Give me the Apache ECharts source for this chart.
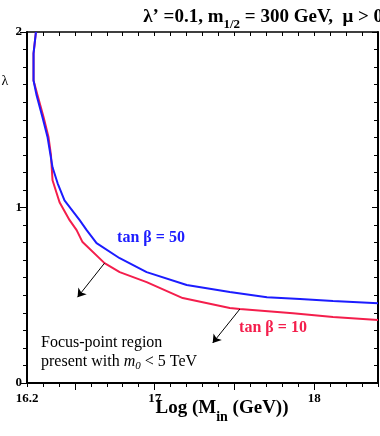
<!DOCTYPE html>
<html>
<head>
<meta charset="utf-8">
<script src="https://cdn.jsdelivr.net/npm/echarts@6/dist/echarts.min.js"></script>
<style>
  html, body { margin: 0; padding: 0; background: #fff; }
  #chart { width: 380px; height: 436px; }
</style>
</head>
<body>
<div id="chart"></div>
<script>
// data
var tan50X = [16.256, 16.241, 16.241, 16.260, 16.297, 16.329, 16.360, 16.392, 16.435, 16.530, 16.574, 16.636, 16.781, 16.950, 17.201, 17.471, 17.704, 17.911, 18.118, 18.400];
var tan50Lambda = [2.0, 1.878, 1.724, 1.639, 1.514, 1.400, 1.229, 1.138, 1.041, 0.928, 0.871, 0.797, 0.711, 0.632, 0.558, 0.518, 0.489, 0.478, 0.467, 0.455];
var tan10X = [16.256, 16.241, 16.241, 16.266, 16.304, 16.335, 16.350, 16.360, 16.404, 16.467, 16.511, 16.548, 16.686, 16.781, 16.950, 17.176, 17.471, 17.534, 17.867, 18.118, 18.400];
var tan10Lambda = [2.0, 1.878, 1.724, 1.639, 1.514, 1.400, 1.300, 1.155, 1.030, 0.928, 0.871, 0.803, 0.683, 0.632, 0.575, 0.484, 0.427, 0.421, 0.398, 0.376, 0.359];
var xLabels = [16.2, 17, 18];
var yLabels = [0, 1, 2];
// arrows (start -> end, in data coordinates)
var arrow1 = [[16.686, 0.683], [16.517, 0.489]];
var arrow2 = [[17.534, 0.421], [17.364, 0.228]];

var serif = 'Liberation Serif';
var red = '#f41e4c';
var blue = '#1c1cff';

function pairs(xs, ys) {
    return xs.map(function (x, i) { return [x, ys[i]]; });
}

var myChart = echarts.init(document.getElementById('chart'));
var option = {
    animation: false,
    title: {
        text: '{a|\u03bb\u2019 =0.1, m}{s|1/2}{a| = 300 GeV,  \u03bc > 0}',
        right: -3,
        top: 8,
        padding: 0,
        textStyle: {
            rich: {
                a: { fontFamily: serif, fontWeight: 'bold', fontSize: 19, lineHeight: 19, verticalAlign: 'top', color: '#000' },
                s: { fontFamily: serif, fontWeight: 'bold', fontSize: 13, lineHeight: 23, verticalAlign: 'bottom', color: '#000' }
            }
        }
    },
    grid: { left: 27, right: 2, top: 32, bottom: 53, containLabel: false },
    xAxis: [{
        type: 'value', position: 'bottom',
        min: 16.2, max: 18.4, interval: 0.1,
        axisLine: { lineStyle: { color: '#000', width: 2 } },
        axisTick: { length: 4, lineStyle: { color: '#000', width: 1 } },
        axisLabel: {
            customValues: xLabels, margin: 9, color: '#000',
            fontFamily: serif, fontWeight: 'bold', fontSize: 13
        },
        splitLine: { show: false }
    }, {
        type: 'value', position: 'bottom',
        min: 16.2, max: 18.4,
        axisLine: { show: false },
        axisTick: { customValues: [16.5, 17, 17.5, 18], length: 7, lineStyle: { color: '#000', width: 1 } },
        axisLabel: { show: false },
        splitLine: { show: false }
    }, {
        type: 'value', position: 'top',
        min: 16.2, max: 18.4, interval: 0.1,
        axisLine: { lineStyle: { color: '#000', width: 1.5 } },
        axisTick: { inside: true, length: 4, lineStyle: { color: '#000', width: 1 } },
        axisLabel: { show: false },
        splitLine: { show: false }
    }],
    yAxis: [{
        type: 'value', position: 'left',
        min: 0, max: 2, interval: 1,
        axisLine: { show: true, lineStyle: { color: '#000', width: 2 } },
        axisTick: { show: true, length: 7, lineStyle: { color: '#000', width: 1 } },
        minorTick: { show: true, splitNumber: 10, length: 4, lineStyle: { color: '#000', width: 1 } },
        axisLabel: {
            customValues: yLabels, margin: 5, color: '#000',
            fontFamily: serif, fontWeight: 'bold', fontSize: 13
        },
        splitLine: { show: false },
        minorSplitLine: { show: false }
    }, {
        type: 'value', position: 'right',
        min: 0, max: 2, interval: 1,
        axisLine: { show: true, lineStyle: { color: '#000', width: 2 } },
        axisTick: { show: true, inside: true, length: 6, lineStyle: { color: '#000', width: 1 } },
        minorTick: { show: true, splitNumber: 10, length: 4, lineStyle: { color: '#000', width: 1 } },
        axisLabel: { show: false },
        splitLine: { show: false },
        minorSplitLine: { show: false }
    }],
    series: [{
        name: 'tan \u03b2 = 10',
        type: 'line',
        data: pairs(tan10X, tan10Lambda),
        showSymbol: false,
        lineStyle: { color: red, width: 2 },
        markLine: {
            silent: true,
            symbol: ['none', 'arrow'],
            symbolSize: 8,
            label: { show: false },
            emphasis: { disabled: true },
            lineStyle: { color: '#000', width: 1, type: 'solid' },
            data: [
                [{ coord: arrow1[0] }, { coord: arrow1[1] }],
                [{ coord: arrow2[0] }, { coord: arrow2[1] }]
            ]
        }
    }, {
        name: 'tan \u03b2 = 50',
        type: 'line',
        data: pairs(tan50X, tan50Lambda),
        showSymbol: false,
        lineStyle: { color: blue, width: 2 }
    }],
    graphic: [{
        type: 'text', x: 5, y: 81,
        style: { text: '\u03bb', font: '14px ' + serif, fill: '#000', align: 'center', verticalAlign: 'middle' }
    }, {
        type: 'text', x: 222, y: 399,
        style: {
            text: '{a|Log (M}{s|in}{a| (GeV))}',
            align: 'center', verticalAlign: 'top',
            rich: {
                a: { fontFamily: serif, fontWeight: 'bold', fontSize: 19, lineHeight: 19, verticalAlign: 'top', fill: '#000' },
                s: { fontFamily: serif, fontWeight: 'bold', fontSize: 14, lineHeight: 25, verticalAlign: 'bottom', fill: '#000' }
            }
        }
    }, {
        type: 'text', x: 151, y: 238,
        style: { text: 'tan \u03b2 = 50', font: 'bold 16px ' + serif, fill: blue, align: 'center', verticalAlign: 'middle' }
    }, {
        type: 'text', x: 273, y: 328,
        style: { text: 'tan \u03b2 = 10', font: 'bold 16px ' + serif, fill: red, align: 'center', verticalAlign: 'middle' }
    }, {
        type: 'text', x: 41, y: 343,
        style: { text: 'Focus-point region', font: '16px ' + serif, fill: '#000', align: 'left', verticalAlign: 'middle' }
    }, {
        type: 'text', x: 41, y: 354,
        style: {
            text: '{a|present with }{i|m}{s|0}{a| < 5 TeV}',
            align: 'left', verticalAlign: 'top',
            rich: {
                a: { fontFamily: serif, fontSize: 16, lineHeight: 16, verticalAlign: 'top', fill: '#000' },
                i: { fontFamily: serif, fontStyle: 'italic', fontSize: 16, lineHeight: 16, verticalAlign: 'top', fill: '#000' },
                s: { fontFamily: serif, fontStyle: 'italic', fontSize: 11, lineHeight: 18, verticalAlign: 'bottom', fill: '#000' }
            }
        }
    }]
};
myChart.setOption(option);
</script>
</body>
</html>
